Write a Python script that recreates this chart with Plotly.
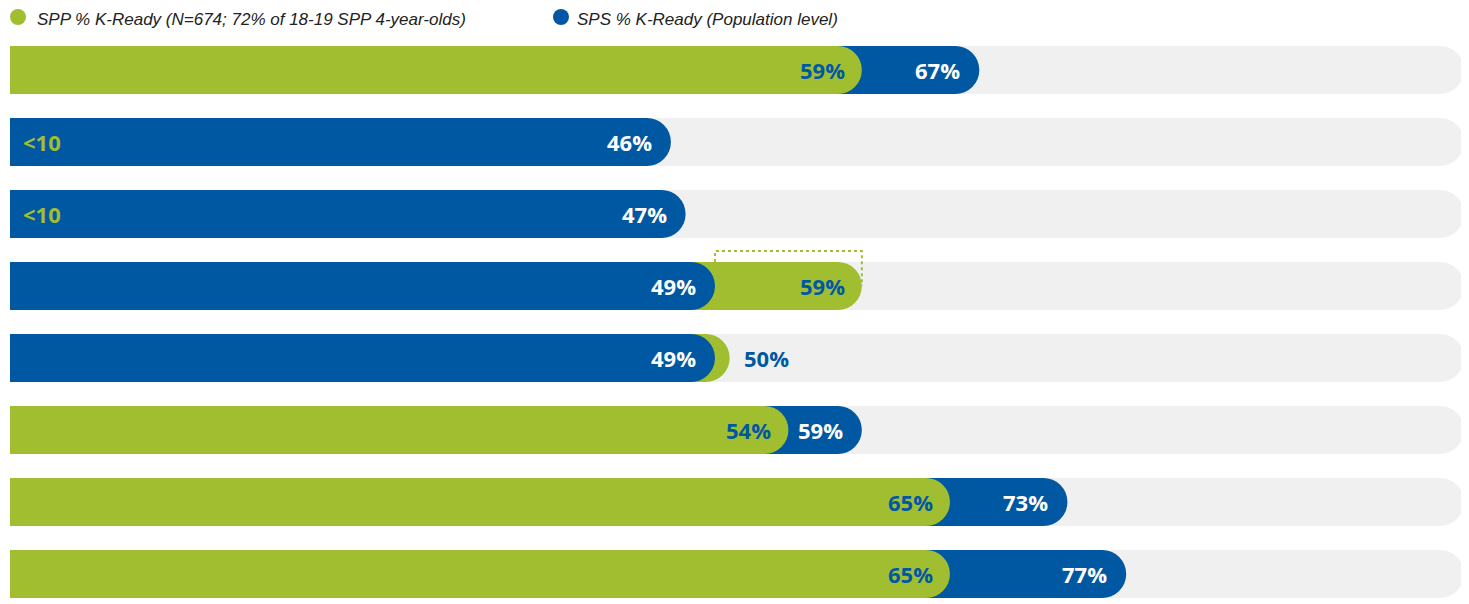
import plotly.graph_objects as go

# ---- data ----
rows = ["Row 1", "Row 2", "Row 3", "Row 4", "Row 5", "Row 6", "Row 7", "Row 8"]
spp = [59, None, None, 59, 50, 54, 65, 65]          # SPP % K-Ready
spp_text = ["59%", "<10", "<10", "59%", "50%", "54%", "65%", "65%"]
sps = [67, 46, 47, 49, 49, 59, 73, 77]              # SPS % K-Ready
sps_text = [f"{v}%" for v in sps]
track_max = 100
series_names = ["SPP % K-Ready (N=674; 72% of 18-19 SPP 4-year-olds)",
                "SPS % K-Ready (Population level)"]

GREEN = "#a0be30"
BLUE = "#0058a3"
TRACK = "#f0f0f0"
OFF = 8                      # page body margin compensation
W, H = 1469 - OFF, 604 - OFF

def px_x(p):
    return (p - OFF) / W

def px_y(p):
    return (H - (p - OFF)) / H

ys = list(range(len(rows)))
band = 72
bar_w = 48 / band
x_lo = 1

back_x, back_c, front_x, front_c = [], [], [], []
for a, b in zip(spp, sps):
    if a is None:
        back_x.append(b); back_c.append(BLUE)
        front_x.append(None); front_c.append(GREEN)
    elif a >= b:
        back_x.append(a); back_c.append(GREEN)
        front_x.append(b); front_c.append(BLUE)
    else:
        back_x.append(b); back_c.append(BLUE)
        front_x.append(a); front_c.append(GREEN)

fig = go.Figure()
layers = [([track_max] * len(rows), TRACK), (back_x, back_c), (front_x, front_c)]
for k, (xs, cs) in enumerate(layers):
    fig.add_bar(y=ys, x=xs, orientation="h", width=bar_w,
                yaxis="y" if k == 0 else f"y{k + 1}",
                marker=dict(color=cs, cornerradius=24, line=dict(width=0)),
                hoverinfo="skip", showlegend=False)

lab_font = dict(family="Open Sans", size=22, weight=700)
ann = []
for i, (a, b) in enumerate(zip(spp, sps)):
    ann.append(dict(x=b, y=i, xref="x", yref="y", text=sps_text[i], showarrow=False,
                    xanchor="right", xshift=-17, font=dict(lab_font, color="white")))
    if a is None:
        ann.append(dict(x=x_lo, y=i, xref="x", yref="y", text=spp_text[i], showarrow=False,
                        xanchor="left", xshift=11, font=dict(lab_font, color=GREEN)))
    elif a > b and a - b < 3:
        ann.append(dict(x=a, y=i, xref="x", yref="y", text=spp_text[i], showarrow=False,
                        xanchor="left", xshift=12, font=dict(lab_font, color=BLUE)))
    else:
        ann.append(dict(x=a, y=i, xref="x", yref="y", text=spp_text[i], showarrow=False,
                        xanchor="right", xshift=-15, font=dict(lab_font, color=BLUE)))

# legend
leg_font = dict(family="Liberation Sans", size=17, style="italic", color="#222222")
leg_text_y = px_y(20)
leg_dot_y = px_y(17)
shapes = []
for name, col, cx, tx in [(series_names[0], GREEN, 18, 36), (series_names[1], BLUE, 561, 576)]:
    ann.append(dict(x=px_x(tx), y=leg_text_y, xref="paper", yref="paper", text=name,
                    showarrow=False, xanchor="left", yanchor="middle", borderpad=0,
                    font=leg_font))
    shapes.append(dict(type="circle", xref="paper", yref="paper",
                       xsizemode="pixel", ysizemode="pixel",
                       xanchor=px_x(cx), yanchor=leg_dot_y, x0=-8, x1=8, y0=-8, y1=8,
                       fillcolor=col, line=dict(width=0)))

# dotted bracket on row 4 between SPS and SPP ends
r = 3
top_y = r - 35 / band
shapes.append(dict(type="path", xref="x", yref="y", layer="above",
                   path=f"M {sps[r]},{r - bar_w / 2} L {sps[r]},{top_y} L {spp[r]},{top_y} L {spp[r]},{r}",
                   line=dict(color=GREEN, width=2, dash="dot")))

top_px = 34
yax = dict(range=[(604 - top_px) / band - 0.5, -0.5], domain=[0, px_y(top_px)],
           showgrid=False, zeroline=False, showticklabels=False, fixedrange=True)
fig.update_layout(
    width=W, height=H, barmode="overlay",
    margin=dict(l=0, r=0, t=0, b=0),
    paper_bgcolor="white", plot_bgcolor="white",
    xaxis=dict(range=[x_lo, track_max], domain=[px_x(10), px_x(1464)], showgrid=False,
               zeroline=False, showticklabels=False, fixedrange=True),
    yaxis=yax,
    yaxis2=dict(yax, overlaying="y"),
    yaxis3=dict(yax, overlaying="y"),
    annotations=ann, shapes=shapes, showlegend=False,
)

fig.write_html("out.html")
